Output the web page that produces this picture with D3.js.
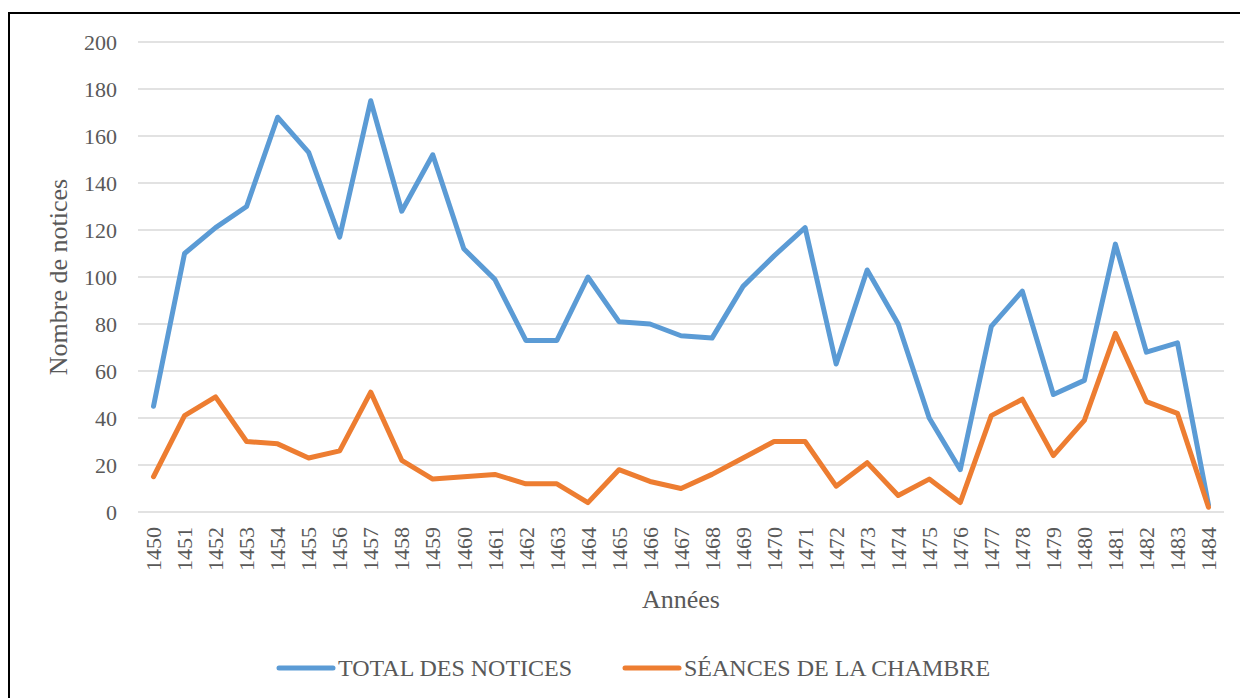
<!DOCTYPE html>
<html>
<head>
<meta charset="utf-8">
<script src="https://cdn.jsdelivr.net/npm/d3@7"></script>
<style>
  html, body { margin: 0; padding: 0; background: #fff; }
  svg { display: block; }
</style>
</head>
<body>
<script>
const years = [1450,1451,1452,1453,1454,1455,1456,1457,1458,1459,1460,1461,1462,1463,1464,1465,1466,1467,1468,1469,1470,1471,1472,1473,1474,1475,1476,1477,1478,1479,1480,1481,1482,1483,1484];
const totalNotices = [45,110,121,130,168,153,117,175,128,152,112,99,73,73,100,81,80,75,74,96,109,121,63,103,80,40,18,79,94,50,56,114,68,72,3];
const seancesChambre = [15,41,49,30,29,23,26,51,22,14,15,16,12,12,4,18,13,10,16,23,30,30,11,21,7,14,4,41,48,24,39,76,47,42,2];
const yTicks = [0,20,40,60,80,100,120,140,160,180,200];
const seriesNames = ["TOTAL DES NOTICES", "SÉANCES DE LA CHAMBRE"];
const seriesColors = ["#5B9BD5", "#ED7D31"];

const FONT = "Liberation Serif, Times New Roman, serif";
const TXT = "#595959";
const W = 1240, H = 698;
const svg = d3.select("body").append("svg").attr("width", W).attr("height", H)
  .attr("font-family", FONT);

// outer border
svg.append("rect").attr("x", 9).attr("y", 13).attr("width", 1300).attr("height", 800)
  .attr("fill", "none").attr("stroke", "#000").attr("stroke-width", 2);

const plot = {left: 138, right: 1224, top: 42, bottom: 512};

const x = d3.scaleBand().domain(years).range([plot.left, plot.right]);
const y = d3.scaleLinear().domain([0, 200]).range([plot.bottom, plot.top]);

// gridlines
svg.append("g").selectAll("line").data(yTicks).join("line")
  .attr("x1", plot.left).attr("x2", plot.right)
  .attr("y1", d => y(d)).attr("y2", d => y(d))
  .attr("stroke", "#d9d9d9").attr("stroke-width", 1.5);

// y axis labels
const yAxis = d3.axisLeft(y).tickValues(yTicks).tickSize(0).tickPadding(0);
const yg = svg.append("g").attr("transform", `translate(${plot.left - 21},0)`).call(yAxis)
  .attr("font-family", FONT).attr("font-size", 22);
yg.select(".domain").remove();
yg.selectAll("text").attr("font-family", FONT).attr("font-size", 22)
  .attr("fill", TXT).attr("dy", "0.35em");

// x axis labels
const xAxis = d3.axisBottom(x).tickSize(0).tickPadding(0);
const xg = svg.append("g").attr("transform", `translate(0,${plot.bottom})`).call(xAxis)
  .attr("font-family", FONT).attr("font-size", 22);
xg.select(".domain").remove();
xg.selectAll("text")
  .attr("font-family", FONT).attr("font-size", 22)
  .attr("fill", TXT)
  .attr("transform", "rotate(-90)")
  .attr("text-anchor", "end")
  .attr("x", -15).attr("y", 0).attr("dy", "0.35em");

// lines
const line = d3.line().x((d, i) => x(years[i]) + x.bandwidth() / 2).y(d => y(d));
[totalNotices, seancesChambre].forEach((s, k) => {
  svg.append("path").datum(s).attr("d", line)
    .attr("fill", "none").attr("stroke", seriesColors[k]).attr("stroke-width", 5)
    .attr("stroke-linejoin", "round").attr("stroke-linecap", "round");
});

// axis titles
svg.append("text").attr("transform", `translate(67,${(plot.top + plot.bottom) / 2}) rotate(-90)`)
  .attr("text-anchor", "middle").attr("font-family", FONT).attr("font-size", 26).attr("fill", TXT)
  .text("Nombre de notices");
svg.append("text").attr("x", (plot.left + plot.right) / 2).attr("y", 608)
  .attr("text-anchor", "middle").attr("font-family", FONT).attr("font-size", 26).attr("fill", TXT)
  .text("Années");

// legend
const legendX = [279, 625];
seriesNames.forEach((n, k) => {
  const g = svg.append("g").attr("transform", `translate(${legendX[k]},668)`);
  g.append("line").attr("x1", 0).attr("x2", 54).attr("y1", 0).attr("y2", 0)
    .attr("stroke", seriesColors[k]).attr("stroke-width", 5).attr("stroke-linecap", "round");
  g.append("text").attr("x", 59).attr("y", 8).attr("font-family", FONT).attr("font-size", 24)
    .attr("fill", TXT).text(n);
});
</script>
</body>
</html>
